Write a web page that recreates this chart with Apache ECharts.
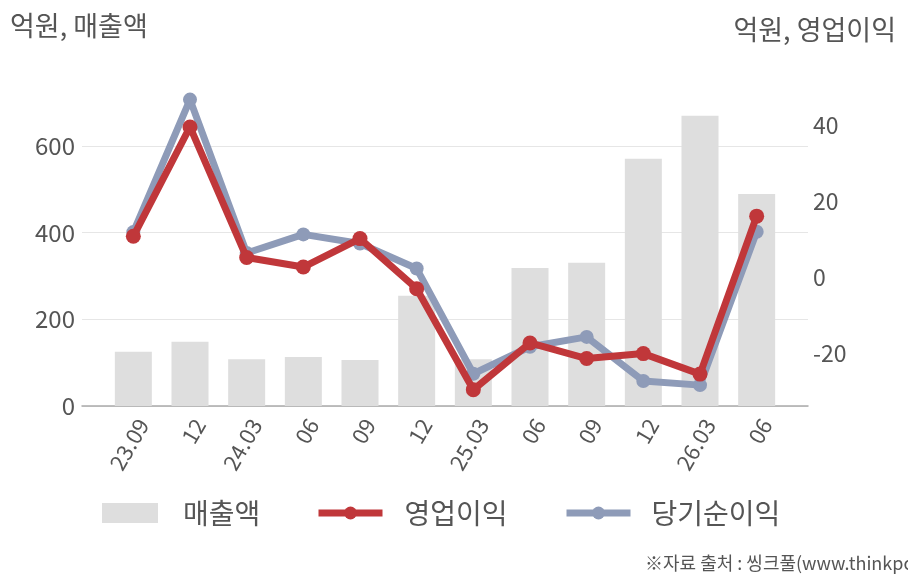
<!DOCTYPE html>
<html>
<head>
<meta charset="utf-8">
<script src="https://cdn.jsdelivr.net/npm/echarts@6/dist/echarts.min.js"></script>
<style>
    html, body { margin: 0; padding: 0; background: #fff; }
    #chart { width: 908px; height: 580px; }
</style>
</head>
<body>
<div id="chart"></div>
<script>
// 분기 라벨
var categories = ['23.09', '12', '24.03', '06', '09', '12', '25.03', '06', '09', '12', '26.03', '06'];
// 매출액 (억원, 왼쪽 축)
var sales = [125, 148, 108, 113, 106, 254, 108, 318, 330, 570, 669, 489];
// 영업이익 / 당기순이익 (억원, 오른쪽 축)
var opProfit = [10.7, 39.5, 5.1, 2.6, 10.1, -3.1, -29.7, -17.4, -21.5, -20.2, -25.6, 16.0];
var netProfit = [11.8, 46.7, 6.3, 11.2, 8.8, 2.2, -25.5, -18.4, -15.8, -27.4, -28.5, 11.9];

var FONT = '"Noto Sans CJK KR", "Noto Sans", sans-serif';
var TEXT = '#555';
var RED = '#c0373a';
var BLUE = '#8e9bb8';
var BAR = '#dedede';

var myChart = echarts.init(document.getElementById('chart'));

var option = {
    animation: false,
    textStyle: { fontFamily: FONT },
    graphic: [
        {
            type: 'text', left: 10, top: 12,
            style: { text: '억원, 매출액', fontSize: 27, fill: TEXT, fontFamily: FONT }
        },
        {
            type: 'text', right: 12, top: 16,
            style: { text: '억원, 영업이익', fontSize: 27, fill: TEXT, fontFamily: FONT }
        },
        {
            type: 'text', left: 645, top: 554,
            style: { text: '※자료 출처 : 씽크풀(www.thinkpool.com)', fontSize: 18, fill: TEXT, fontFamily: FONT }
        }
    ],
    legend: [
        {
            data: ['매출액'], left: 102, top: 499, padding: 0,
            icon: 'rect',
            itemWidth: 56, itemHeight: 20,
            textStyle: { fontSize: 28, color: TEXT, padding: [0, 0, 0, 20] }
        },
        {
            data: ['영업이익'], left: 315, top: 499, padding: 0,
            itemWidth: 64, itemHeight: 16,
            lineStyle: { width: 7 },
            textStyle: { fontSize: 28, color: TEXT, padding: [0, 0, 0, 17] }
        },
        {
            data: ['당기순이익'], left: 563, top: 499, padding: 0,
            itemWidth: 64, itemHeight: 16,
            lineStyle: { width: 7 },
            textStyle: { fontSize: 28, color: TEXT, padding: [0, 0, 0, 16] }
        }
    ],
    grid: [
        // 축선, 눈금선
        { left: 82, right: 100, top: 59, bottom: 174 },
        // 데이터
        { left: 105, right: 123, top: 59, bottom: 174 }
    ],
    xAxis: [
        {
            gridIndex: 0,
            type: 'value',
            min: 0,
            max: 1,
            axisLine: { show: true, onZero: false, lineStyle: { color: '#aaa', width: 1.5 } },
            axisTick: { show: false },
            axisLabel: { show: false },
            splitLine: { show: false }
        },
        {
            gridIndex: 1,
            type: 'category',
            data: categories,
            axisLine: { show: false },
            axisTick: { show: false },
            axisLabel: {
                rotate: 60,
                verticalAlign: 'top',
                margin: 9,
                fontSize: 22,
                color: TEXT,
                interval: 0
            }
        }
    ],
    yAxis: [
        {
            gridIndex: 0,
            type: 'value',
            min: 0,
            max: 800,
            interval: 200,
            axisLine: { show: false },
            axisTick: { show: false },
            axisLabel: { fontSize: 24, color: TEXT, margin: 7, showMaxLabel: false },
            splitLine: { showMaxLine: false, lineStyle: { color: '#e6e6e6', width: 1 } }
        },
        {
            gridIndex: 0,
            type: 'value',
            position: 'right',
            min: -34,
            max: 57.4,
            axisLine: { show: false },
            axisTick: { show: false },
            axisLabel: { fontSize: 23, color: TEXT, margin: 5, showMinLabel: false, showMaxLabel: false },
            splitLine: { show: false }
        },
        {
            gridIndex: 1,
            type: 'value',
            min: 0,
            max: 800,
            show: false,
            splitLine: { show: false }
        },
        {
            gridIndex: 1,
            type: 'value',
            min: -34,
            max: 57.4,
            show: false,
            splitLine: { show: false }
        }
    ],
    series: [
        {
            name: '매출액',
            type: 'bar',
            xAxisIndex: 1,
            yAxisIndex: 2,
            data: sales,
            barWidth: 37,
            itemStyle: { color: BAR },
            z: 2
        },
        {
            name: '영업이익',
            type: 'line',
            xAxisIndex: 1,
            yAxisIndex: 3,
            data: opProfit,
            symbol: 'circle',
            symbolSize: 15,
            clip: false,
            lineStyle: { color: RED, width: 7 },
            itemStyle: { color: RED },
            z: 4
        },
        {
            name: '당기순이익',
            type: 'line',
            xAxisIndex: 1,
            yAxisIndex: 3,
            data: netProfit,
            symbol: 'circle',
            symbolSize: 14,
            clip: false,
            lineStyle: { color: BLUE, width: 7 },
            itemStyle: { color: BLUE },
            z: 3
        }
    ]
};

myChart.setOption(option);
</script>
</body>
</html>
